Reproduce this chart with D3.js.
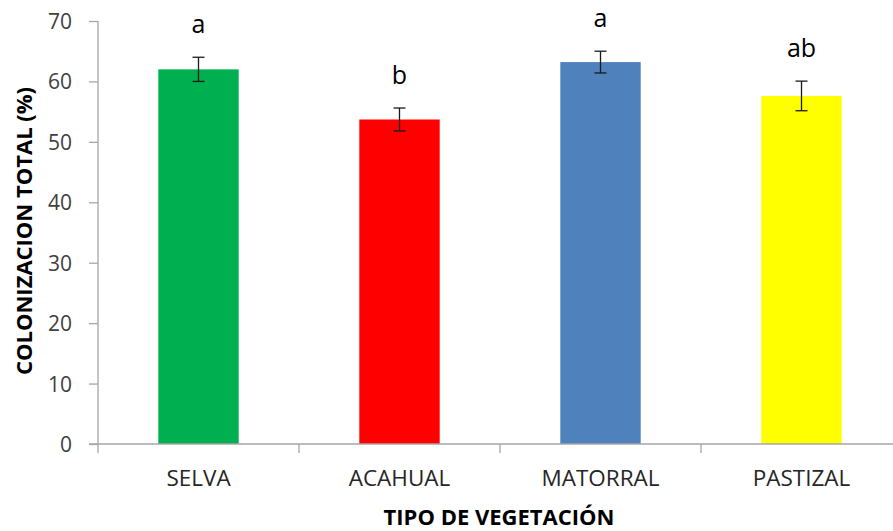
<!DOCTYPE html>
<html>
<head>
<meta charset="utf-8">
<script src="https://cdn.jsdelivr.net/npm/d3@7"></script>
<style>
  html, body { margin: 0; padding: 0; background: #fff; }
  svg { display: block; }
</style>
</head>
<body>
<svg id="chart" width="893" height="531"></svg>
<script>
// Vegetation types and their total colonization (%) with standard errors
const categories = ["SELVA", "ACAHUAL", "MATORRAL", "PASTIZAL"];
const values = [62.0, 53.7, 63.2, 57.6];
const errors = [2.0, 1.9, 1.8, 2.45];
const groups = ["a", "b", "a", "ab"];
const colors = ["#00b050", "#ff0000", "#4f81bd", "#ffff00"];
const yTicks = [0, 10, 20, 30, 40, 50, 60, 70];

const svg = d3.select("#chart");
const plotLeft = 98, plotRight = 902, plotTop = 21, plotBottom = 444;
const axisColor = "#a6a6a6";
const font = "'Open Sans', sans-serif";

const x = d3.scaleBand().domain(categories).range([plotLeft, plotRight])
  .paddingInner(0.6).paddingOuter(0.3);
const y = d3.scaleLinear().domain([0, 70]).range([plotBottom, plotTop]);

// Y axis
const yAxis = svg.append("g")
  .attr("transform", `translate(${plotLeft},0)`)
  .call(d3.axisLeft(y).tickValues(yTicks).tickSize(9).tickPadding(17).tickFormat(d3.format("d")));
yAxis.select(".domain").attr("stroke", axisColor).attr("stroke-width", 1.3).attr("d", `M0,${plotTop}V${plotBottom}`);
yAxis.selectAll(".tick line").attr("stroke", axisColor).attr("stroke-width", 1.3);
yAxis.selectAll(".tick text").attr("fill", "#404040").style("font-family", font).style("font-size", "21px").attr("dy", "0.36em");

// Bars
svg.append("g").selectAll("rect").data(categories).join("rect")
  .attr("x", d => x(d))
  .attr("y", (d, i) => y(values[i]))
  .attr("width", x.bandwidth())
  .attr("height", (d, i) => y(0) - y(values[i]))
  .attr("fill", (d, i) => colors[i]);

// X axis: baseline, category boundary ticks and labels
const xAxis = svg.append("g").attr("transform", `translate(0,${plotBottom})`)
  .call(d3.axisBottom(x).tickSize(0).tickPadding(26));
xAxis.select(".domain").attr("stroke", axisColor).attr("stroke-width", 1.3).attr("d", `M${plotLeft - 9},0H${plotRight}`);
xAxis.selectAll(".tick text").attr("fill", "#262626").style("font-family", font).style("font-size", "22.5px");

const boundaries = categories.map(d => x(d) + x.bandwidth() / 2 - x.step() / 2)
  .concat([x(categories[categories.length - 1]) + x.bandwidth() / 2 + x.step() / 2]);
svg.append("g").selectAll("line").data(boundaries).join("line")
  .attr("x1", d => d).attr("x2", d => d)
  .attr("y1", plotBottom).attr("y2", plotBottom + 9)
  .attr("stroke", axisColor).attr("stroke-width", 1.3);

// Error bars
const capHalf = 6;
const eb = svg.append("g").attr("stroke", "#1a1a1a").attr("stroke-width", 1.3);
categories.forEach((d, i) => {
  const cx = x(d) + x.bandwidth() / 2;
  const hi = y(values[i] + errors[i]), lo = y(values[i] - errors[i]);
  eb.append("line").attr("x1", cx).attr("x2", cx).attr("y1", hi).attr("y2", lo);
  eb.append("line").attr("x1", cx - capHalf).attr("x2", cx + capHalf).attr("y1", hi).attr("y2", hi);
  eb.append("line").attr("x1", cx - capHalf).attr("x2", cx + capHalf).attr("y1", lo).attr("y2", lo);
});

// Significance letters
svg.append("g").selectAll("text").data(categories).join("text")
  .attr("x", d => x(d) + x.bandwidth() / 2)
  .attr("y", (d, i) => y(values[i] + errors[i]) - 24)
  .attr("text-anchor", "middle")
  .attr("fill", "#000")
  .style("font-family", font).style("font-size", "25px")
  .text((d, i) => groups[i]);

// Axis titles
svg.append("text")
  .attr("transform", "translate(32,231) rotate(-90)")
  .attr("text-anchor", "middle")
  .style("font-family", font).style("font-size", "22px").style("font-weight", "bold")
  .attr("fill", "#000")
  .text("COLONIZACION TOTAL (%)");

svg.append("text")
  .attr("x", 499).attr("y", 525)
  .attr("text-anchor", "middle")
  .style("font-family", font).style("font-size", "22px").style("font-weight", "bold")
  .attr("fill", "#000")
  .text("TIPO DE VEGETACIÓN");
</script>
</body>
</html>
